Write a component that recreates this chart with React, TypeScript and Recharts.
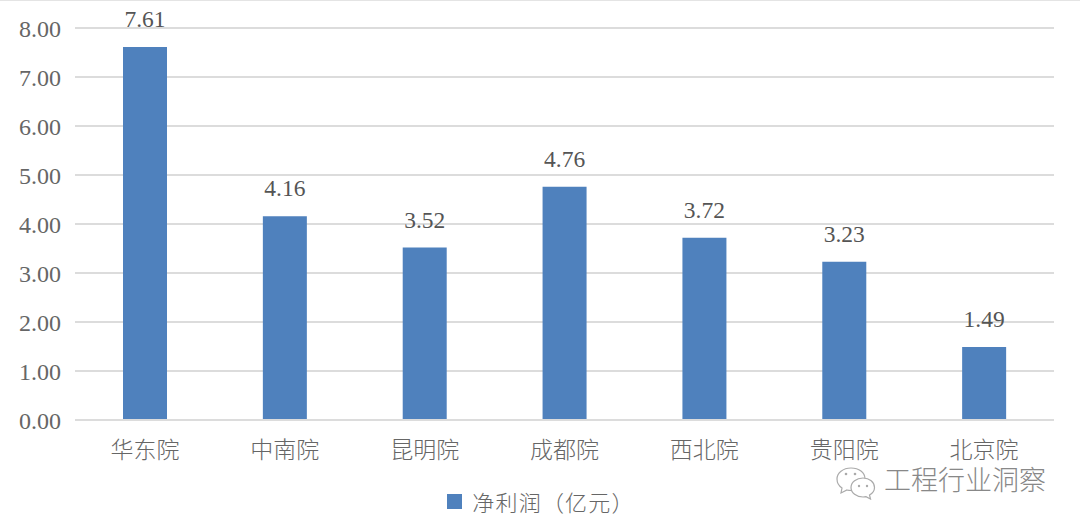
import { BarChart, Bar, XAxis, YAxis, CartesianGrid, LabelList, Legend } from 'recharts';

const categories = ['华东院', '中南院', '昆明院', '成都院', '西北院', '贵阳院', '北京院'];
const profits = [7.61, 4.16, 3.52, 4.76, 3.72, 3.23, 1.49];
const yTicks = [0, 1, 2, 3, 4, 5, 6, 7, 8];
const seriesName = '净利润（亿元）';
const watermark = '工程行业洞察';

const chartData = categories.map((name, i) => ({ name, profit: profits[i] }));

const SERIF = '"Liberation Serif", "Noto Sans CJK SC", serif';
const CJK = '"Noto Sans CJK SC", sans-serif';

function LegendContent() {
  return (
    <div style={{ display: 'flex', alignItems: 'center', justifyContent: 'center', fontFamily: CJK, fontWeight: 300, fontSize: 22, color: '#666' }}>
      <span style={{ width: 15, height: 15, background: '#4f81bd', marginRight: 10 }} />
      <span style={{ letterSpacing: 1.2 }}>{seriesName}</span>
    </div>
  );
}

export default function App() {
  return (
    <div style={{ position: 'absolute', left: 0, top: 0, width: 1080, height: 528, background: '#fff', overflow: 'hidden' }}>
      <div style={{ position: 'absolute', left: 0, top: 0, width: 1080, height: 1, background: '#e4e4e4' }} />
      <BarChart width={1080} height={528} data={chartData} margin={{ top: 28, right: 26, bottom: 36, left: 0 }}>
        <CartesianGrid vertical={false} stroke="#dcdcdc" strokeWidth={2} />
        <XAxis
          dataKey="name"
          height={40}
          tickLine={false}
          axisLine={{ stroke: '#dcdcdc', strokeWidth: 2 }}
          tickMargin={16}
          tick={{ fontSize: 23, fontFamily: SERIF, fontWeight: 300, fill: '#666' }}
        />
        <YAxis
          width={75}
          domain={[0, 8]}
          ticks={yTicks}
          interval={0}
          tickLine={false}
          axisLine={false}
          tickMargin={14}
          tickFormatter={(v: number) => v.toFixed(2)}
          tick={{ fontSize: 24, fontFamily: SERIF, fill: '#666', dx: 6 }}
        />
        <Legend
          verticalAlign="bottom"
          content={<LegendContent />}
          wrapperStyle={{ left: 421, width: 240, top: 485, bottom: 'auto' }}
        />
        <Bar dataKey="profit" name={seriesName} fill="#4f81bd" barSize={44} isAnimationActive={false}>
          <LabelList
            dataKey="profit"
            position="top"
            offset={20}
            formatter={(v: number) => v.toFixed(2)}
            style={{ fontSize: 23.5, fontFamily: SERIF, fill: '#555' }}
          />
        </Bar>
      </BarChart>
      {/* 水印 */}
      <svg width={42} height={34} viewBox="0 0 42 34" style={{ position: 'absolute', left: 835, top: 466 }}>
        <g fill="#fff" stroke="#aaa" strokeWidth={1.2}>
          <path d="M16 2c-8 0-14 5-14 11 0 4 2 7 5 9l-1 5 6-3c1.500 0.400 3 0.500 4 0.500 8 0 14-5 14-11.500S24 2 16 2z" />
          <path d="M28 12c-6.500 0-12 4-12 9.500S21.500 31 28 31c1 0 2-0.100 3-0.400l4.500 2.400-1-4c3-1.700 5-4.400 5-7.500C39.500 16 34.500 12 28 12z" />
        </g>
        <g fill="#aaa">
          <circle cx={11} cy={8} r={1.3} />
          <circle cx={20} cy={8} r={1.3} />
          <circle cx={24} cy={20} r={1.2} />
          <circle cx={32} cy={20} r={1.2} />
        </g>
      </svg>
      <div style={{ position: 'absolute', left: 884, top: 467, fontFamily: SERIF, fontWeight: 300, fontSize: 27, lineHeight: '28px', color: '#888', whiteSpace: 'nowrap' }}>
        {watermark}
      </div>
    </div>
  );
}
